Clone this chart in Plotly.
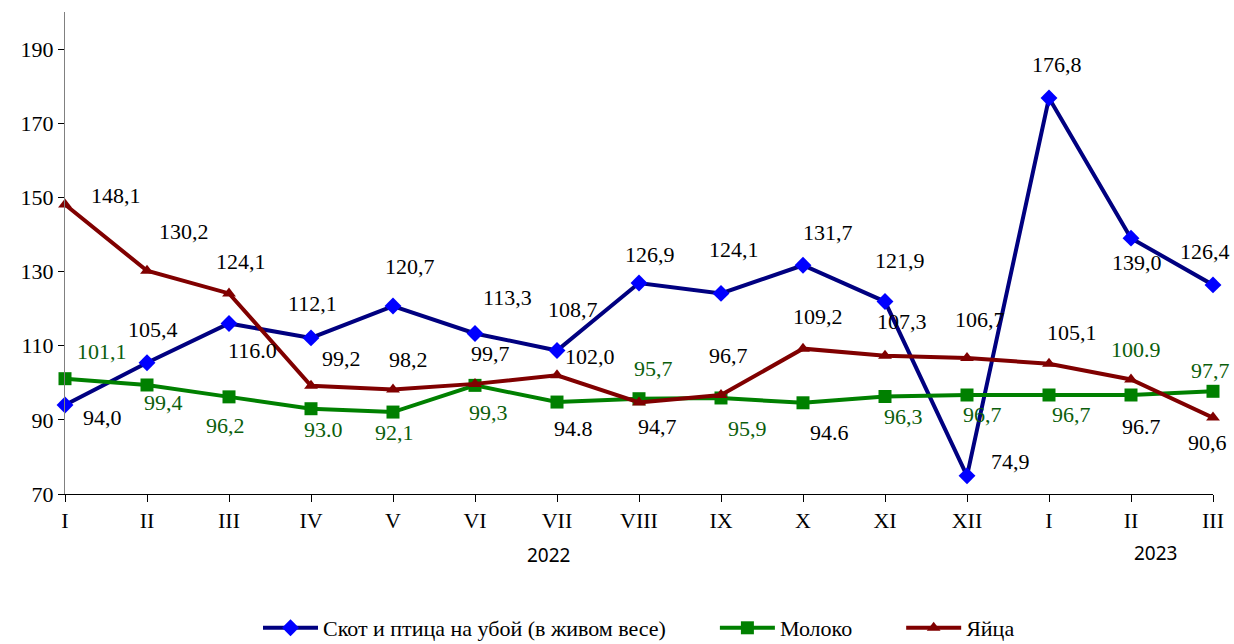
import plotly.graph_objects as go

months = ["I", "II", "III", "IV", "V", "VI", "VII", "VIII", "IX", "X", "XI", "XII", "I", "II", "III"]
years = ["2022", "2023"]

names = ["Скот и птица на убой (в живом весе)", "Молоко", "Яйца"]

skot = [94.0, 105.4, 116.0, 112.1, 120.7, 113.3, 108.7, 126.9, 124.1, 131.7, 121.9, 74.9, 176.8, 139.0, 126.4]
moloko = [101.1, 99.4, 96.2, 93.0, 92.1, 99.3, 94.8, 95.7, 95.9, 94.6, 96.3, 96.7, 96.7, 96.7, 97.7]
yaica = [148.1, 130.2, 124.1, 99.2, 98.2, 99.7, 102.0, 94.7, 96.7, 109.2, 107.3, 106.7, 105.1, 100.9, 90.6]

skot_text = ["94,0", "105,4", "116.0", "112,1", "120,7", "113,3", "108,7", "126,9", "124,1", "131,7", "121,9", "74,9", "176,8", "139,0", "126,4"]
moloko_text = ["101,1", "99,4", "96,2", "93.0", "92,1", "99,3", "94.8", "95,7", "95,9", "94.6", "96,3", "96,7", "96,7", "96.7", "97,7"]
yaica_text = ["148,1", "130,2", "124,1", "99,2", "98,2", "99,7", "102,0", "94,7", "96,7", "109,2", "107,3", "106,7", "105,1", "100.9", "90,6"]

BLACK = "#000000"
DGREEN = "#0B5E0B"
skot_tcol = [BLACK] * 15
moloko_tcol = [DGREEN, DGREEN, DGREEN, DGREEN, DGREEN, DGREEN, BLACK, DGREEN, DGREEN, BLACK, DGREEN, DGREEN, DGREEN, BLACK, DGREEN]
yaica_tcol = [BLACK] * 13 + [DGREEN, BLACK]

# label offsets in pixels (dx right, dy down) relative to each point
skot_off = [(37, 12), (6, -33), (23, 27), (1, -34), (17, -40), (32, -36), (16, -41), (11, -29), (13, -44), (25, -33), (15, -41), (43, -14), (8, -34), (6, 24), (-8, -33)]
moloko_off = [(37, -27), (16, 18), (-4, 29), (12, 21), (1, 20), (13, 27), (16, 26), (14, -30), (26, 31), (26, 30), (18, 20), (15, 19), (22, 19), (10, 31), (-3, -21)]
yaica_off = [(51, -9), (37, -39), (12, -32), (30, -27), (15, -30), (15, -30), (33, -19), (18, 24), (7, -40), (15, -32), (17, -34), (13, -38), (23, -31), (5, -30), (-6, 25)]

xs = list(range(len(months)))
SERIF = "Liberation Serif"
PAD = "\u00a0" * 8

fig = go.Figure()
fig.add_trace(go.Scatter(x=xs, y=skot, name=names[0] + PAD, mode="lines+markers",
                         line=dict(color="#000080", width=4),
                         marker=dict(symbol="diamond", size=13, color="#0000FF"),
                         cliponaxis=False))
fig.add_trace(go.Scatter(x=xs, y=moloko, name=names[1] + PAD, mode="lines+markers",
                         line=dict(color="#008000", width=4),
                         marker=dict(symbol="square", size=13, color="#008000"),
                         cliponaxis=False))
fig.add_trace(go.Scatter(x=xs, y=yaica, name=names[2], mode="lines+markers",
                         line=dict(color="#800000", width=4),
                         marker=dict(symbol="triangle-up", size=12, color="#800000"),
                         cliponaxis=False))

annotations = []
for vals, texts, cols, offs in [(skot, skot_text, skot_tcol, skot_off),
                                (moloko, moloko_text, moloko_tcol, moloko_off),
                                (yaica, yaica_text, yaica_tcol, yaica_off)]:
    for i, (v, t, c, o) in enumerate(zip(vals, texts, cols, offs)):
        annotations.append(dict(x=i, y=v, xref="x", yref="y", text=t, showarrow=False,
                                xshift=o[0], yshift=-o[1],
                                font=dict(family=SERIF, size=22, color=c)))

annotations.append(dict(x=5.9, y=-0.127, xref="x", yref="paper", text=years[0], showarrow=False,
                        yanchor="middle", font=dict(family="Noto Sans", size=19, color="#000")))
annotations.append(dict(x=13.3, y=-0.122, xref="x", yref="paper", text=years[1], showarrow=False,
                        yanchor="middle", font=dict(family="Noto Sans", size=19, color="#000")))

fig.update_layout(
    width=1234, height=644,
    margin=dict(l=65, r=21, t=12, b=150, autoexpand=False),
    paper_bgcolor="white", plot_bgcolor="white",
    showlegend=True,
    legend=dict(orientation="h", x=0.5, xanchor="center", y=-0.278, yanchor="middle",
                font=dict(family=SERIF, size=22, color="#000"), itemwidth=55,
                traceorder="normal"),
    annotations=annotations,
    xaxis=dict(range=[0, 14], tickmode="array", tickvals=xs, ticktext=months,
               showgrid=False, zeroline=False, showline=True, linecolor="#000", linewidth=1,
               ticks="outside", ticklen=7, tickcolor="#000",
               tickfont=dict(family=SERIF, size=22, color="#000")),
    yaxis=dict(range=[70, 200], tickmode="array", tickvals=[70, 90, 110, 130, 150, 170, 190],
               showgrid=False, zeroline=False, showline=True, linecolor="#808080", linewidth=1,
               ticks="outside", ticklen=6, tickcolor="#000",
               tickfont=dict(family=SERIF, size=22, color="#000")),
)

fig.write_html("out.html", config={"displayModeBar": False},
               post_script="document.body.style.margin='0';document.body.style.overflow='hidden';")
